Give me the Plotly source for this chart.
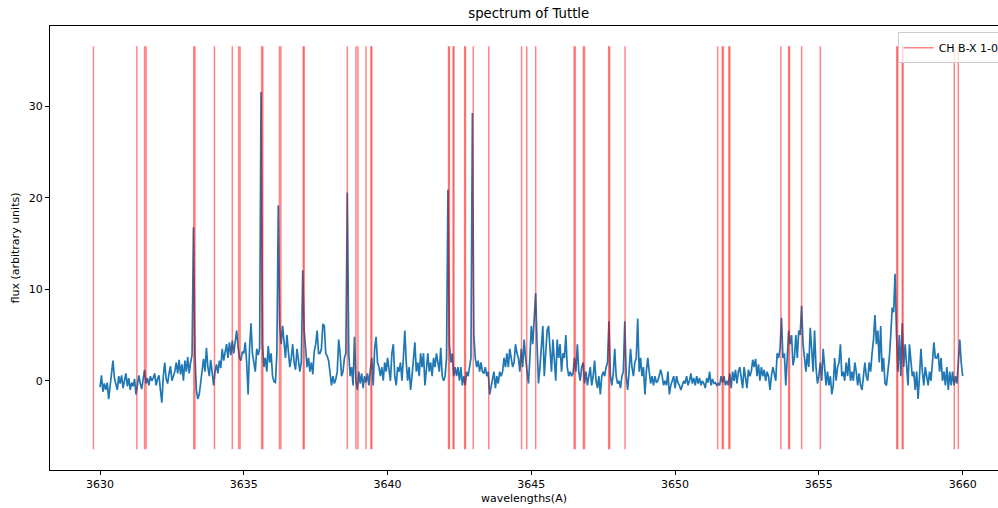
import plotly.graph_objects as go

# ---------------- data ----------------
wavelengths = [round(3630 + 0.05 * i, 2) for i in range(601)]

flux = [
    # 3630.00 - 3630.95
    -0.7, 0.6, -1.2, -0.3, -1.0, -0.2, -2.0, -0.5, 0.5, 2.2, 0.3, -0.5, -1.0, 0.5, -0.3, 0.6, -0.8, 0.0, 0.8, -0.6,
    # 3631
    0.3, -1.0, -0.2, -0.6, 0.2, -1.5, -0.5, 0.6, -0.3, -0.9, 0.2, 1.2, -0.3, 0.3, -0.5, 0.5, 0.0, 0.3, 0.8, -0.5,
    # 3632
    0.2, 0.6, -1.0, -2.4, 0.5, 2.0, 0.2, -0.3, 0.8, 1.6, 0.0, 0.5, 1.0, 2.0, 0.8, 2.3, 0.7, 1.8, 0.0, 2.2,
    # 3633
    1.0, 2.6, 0.8, 2.0, 2.8, 16.8, 3.0, -1.0, -2.0, -1.5, 0.0, 1.5, 2.4, 1.0, 3.6, 1.5, 0.5, 2.3, 1.0, -0.5,
    # 3634
    1.0, 1.8, 0.8, 2.2, 1.4, 3.5, 2.2, 3.0, 4.0, 2.5, 4.2, 2.8, 4.4, 3.0, 4.5, 5.5, 3.8, 2.5, 2.2, 3.2,
    # 3635
    3.0, 4.2, 2.0, -1.5, 3.5, 6.3, 3.0, 2.0, 1.0, 3.5, 2.8, 3.5, 31.6, 4.0, 1.5, 2.5, 1.0, 3.8, 2.0, 3.0,
    # 3636
    0.5, -0.1, -0.2, 3.0, 19.2, 6.0, 4.0, 6.0, 4.5, 2.5, 5.0, 3.0, 1.5, 2.5, 4.0, 2.0, 1.2, 3.5, 2.5, 1.0,
    # 3637
    2.0, 12.1, 5.5, 3.5, 1.5, 2.5, 1.0, 2.0, 0.7, 3.2, 4.0, 5.5, 3.0, 3.0, 3.5, 6.2, 6.0, 3.0, 2.7, 2.2,
    # 3638
    1.0, -0.5, 0.5, -0.3, 0.2, 1.0, 4.5, 3.0, 0.5, 1.0, 2.5, 3.0, 20.6, 3.0, 0.5, 1.5, -0.5, 4.8, 0.0, -1.0,
    # 3639
    1.0, -0.3, 0.8, -0.8, 0.5, -0.2, 0.8, -0.5, 1.2, 2.5, -0.5, 3.5, 4.8, 2.0, 1.5, 0.5, 1.5, 0.0, 2.0, 1.0,
    # 3640
    2.5, 1.0, 0.0, 3.0, 4.0, 0.5, -0.5, 1.5, 1.0, 2.0, 0.0, 2.5, 5.5, 2.0, 0.0, 1.5, -1.0, 0.5, 2.5, 4.2,
    # 3641
    1.0, 2.0, 0.5, 3.0, 1.5, 3.0, -0.5, 1.5, 3.0, 1.0, 2.0, 0.5, 2.5, 1.5, 3.0, 2.0, 1.0, 3.6, 0.5, 0.0,
    # 3642
    0.5, 2.5, 20.9, 4.0, 2.0, 3.0, 0.5, 1.5, 0.5, 1.5, 0.0, 1.5, -0.5, 0.5, -0.5, 1.0, 0.5, 1.5, 2.5, 29.3,
    # 3643
    5.0, 2.5, 1.5, 2.2, 1.0, 2.0, 1.0, 0.8, 1.5, 0.5, 1.0, -1.5, -0.5, 0.5, 1.0, -0.8, 0.5, -0.3, 1.0, 0.5,
    # 3644
    1.0, 2.5, 1.5, 3.0, 1.5, 3.5, 2.5, 1.5, 2.0, 4.0, 3.0, 2.5, 1.0, 3.5, 1.5, 4.5, 2.5, 1.0, -0.3, 2.5,
    # 3645
    6.0, 4.0, 6.5, 9.6, 4.0, -0.3, 1.5, 4.5, 6.0, 0.5, 3.5, 5.5, 6.0, 4.0, 1.0, 4.5, 1.5, 0.0, 4.5, 2.5,
    # 3646
    4.0, 1.0, 3.0, 2.5, 5.0, 1.5, 0.5, 1.0, 0.5, 0.8, 2.5, 1.0, 4.0, 1.0, 0.0, 1.5, 2.0, -0.3, 1.0, -0.5,
    # 3647
    0.5, 1.5, -0.5, 0.5, 2.2, 0.0, -0.8, 0.5, -1.5, 0.5, 1.0, 0.5, 1.5, 2.0, 6.5, 0.5, -0.5, 0.8, 3.5, 0.5,
    # 3648
    -0.3, 0.0, -0.8, 0.5, 1.0, 6.5, 0.5, -1.0, 1.0, 3.5, 1.5, 0.5, 2.0, 2.5, 6.8, 1.0, 2.5, 0.5, 1.5, -1.5,
    # 3649
    1.0, 2.5, 1.0, -0.3, 0.5, -0.5, 0.5, -0.2, 0.0, 0.5, 1.2, 0.5, -0.5, 0.0, -0.5, 1.0, -1.5, -0.5, 0.0, 0.5,
    # 3650
    -0.8, 0.5, -0.2, -0.5, -1.0, -0.5, 0.0, -0.3, 0.5, -0.5, 0.0, 0.8, -0.3, 0.3, -0.5, 0.5, -0.3, 0.3, -0.5, 0.0,
    # 3651
    -0.3, -0.8, 0.3, -0.2, 1.0, -0.5, 0.2, -0.3, -0.2, -0.5, -0.3, -0.5, 0.5, -0.2, 0.5, -0.5, 0.0, -0.5, 0.8, -0.8,
    # 3652
    1.0, 0.0, 1.2, -0.3, 1.0, 1.5, 0.5, -0.8, 1.5, 0.0, -0.8, 1.2, 0.5, 1.0, 2.3, 1.5, 2.4, 0.5, 1.8, 0.0,
    # 3653
    1.5, 0.5, 1.2, 0.0, 1.0, 0.5, -1.0, 0.5, 1.5, 0.8, 0.0, 3.0, 2.5, 3.5, 6.9, 2.5, 3.0, -0.5, 2.0, 5.5,
    # 3654
    4.0, 5.0, 1.7, 2.5, 5.0, 2.5, 5.5, 5.0, 8.2, 4.0, 2.5, 1.0, 3.0, 1.5, 5.8, 3.0, 1.0, 5.5, 1.5, -0.3,
    # 3655
    0.5, 2.0, 0.0, 3.5, 1.0, -0.5, 1.0, -0.5, 0.5, -1.5, -0.5, 2.5, 0.0, 1.5, 2.0, 4.0, 0.5, 1.0, 0.0, 2.0,
    # 3656
    0.5, 2.5, 0.0, 1.0, 0.0, 2.0, 1.0, -0.5, 0.8, -0.5, -1.0, 0.5, 2.0, 0.5, 0.0, 2.0, 1.0, 3.0, 4.5, 7.2,
    # 3657
    4.0, 5.5, 2.0, 6.0, 1.0, 2.5, -0.3, -0.5, 1.0, 2.5, 5.0, 8.0, 7.5, 11.7, 5.0, 1.0, 5.0, 0.5, 6.3, 1.5,
    # 3658
    4.0, 1.5, -0.5, 4.0, 2.5, 0.5, 1.0, -1.0, 1.0, -2.0, 0.5, 3.5, 1.0, -0.5, 1.5, 0.5, -0.5, 1.0, 0.0, 2.0,
    # 3659
    4.2, 2.5, 2.5, 3.0, 1.0, 2.5, 0.0, 1.0, -0.5, 1.5, -1.0, 1.0, -0.5, 1.0, -0.5, 0.5, -0.3, 2.0, 4.5, 2.0,
    # 3660
    0.5,
]

ch_bx_lines = [
    3629.77, 3631.28, 3631.55, 3631.60, 3633.26, 3633.30, 3633.98, 3634.60,
    3634.82, 3634.87, 3635.62, 3635.66, 3636.24, 3636.29, 3637.07, 3637.10,
    3638.60, 3638.90, 3638.97, 3639.25, 3639.42, 3639.45, 3642.12, 3642.15,
    3642.28, 3642.31, 3642.68, 3642.71, 3642.98, 3643.52, 3644.66, 3644.84,
    3645.15, 3646.49, 3646.53, 3646.81, 3646.85, 3647.69, 3647.72, 3648.26,
    3651.48, 3651.64, 3651.68, 3651.87, 3651.90, 3653.68, 3653.95, 3653.98,
    3654.40, 3655.05, 3657.71, 3657.74, 3657.90, 3657.93, 3659.71, 3659.85,
]
line_ymin = -7.5
line_ymax = 36.6

x_ticks = [3630, 3635, 3640, 3645, 3650, 3655, 3660]
y_ticks = [0, 10, 20, 30]

# ---------------- figure ----------------
FONT = "DejaVu Sans"
fig = go.Figure()

fig.add_trace(go.Scatter(
    x=wavelengths, y=flux, mode="lines",
    line=dict(color="#1f77b4", width=1.7),
    showlegend=False, hoverinfo="skip",
))

for i, w in enumerate(ch_bx_lines):
    fig.add_trace(go.Scatter(
        x=[w, w], y=[line_ymin, line_ymax], mode="lines",
        line=dict(color="rgba(255,0,0,0.48)", width=1.5),
        name="CH B-X 1-0", legendgroup="ch", showlegend=(i == 0),
        hoverinfo="skip",
    ))

fig.update_layout(
    width=998, height=508,
    margin=dict(l=50, r=0, t=26, b=38, pad=0, autoexpand=False),
    paper_bgcolor="white", plot_bgcolor="white",
    font=dict(family=FONT, size=11, color="black"),
    title=dict(
        text="spectrum of Tuttle", x=0.505, xref="paper", xanchor="center",
        y=1 - 13 / 508, yref="container", yanchor="middle",
        font=dict(family=FONT, size=13.3, color="black"),
    ),
    legend=dict(
        x=1.007, xanchor="right", y=0.986, yanchor="top",
        bgcolor="rgba(255,255,255,0.8)", bordercolor="#cccccc", borderwidth=1,
        font=dict(family=FONT, size=11, color="black"),
        tracegroupgap=0,
    ),
    xaxis=dict(
        range=[3628.26, 3661.23], tickvals=x_ticks, ticktext=[str(v) for v in x_ticks],
        ticks="outside", ticklen=4, tickwidth=0.9, tickcolor="black",
        showline=True, linecolor="black", linewidth=0.9, mirror=True,
        showgrid=False, zeroline=False, automargin=False,
        tickfont=dict(family=FONT, size=11, color="black"),
        title=dict(text="wavelengths(A)", standoff=4, font=dict(family=FONT, size=11, color="black")),
    ),
    yaxis=dict(
        range=[-9.76, 38.81], tickvals=y_ticks, ticktext=[str(v) for v in y_ticks],
        ticks="outside", ticklen=4, tickwidth=0.9, tickcolor="black",
        showline=True, linecolor="black", linewidth=0.9, mirror=False,
        showgrid=False, zeroline=False, automargin=False,
        tickfont=dict(family=FONT, size=11, color="black"),
        title=dict(text="flux (arbitrary units)", standoff=6, font=dict(family=FONT, size=11, color="black")),
    ),
)

fig.write_html(
    "out.html",
    config={"displayModeBar": False},
    post_script="document.body.style.margin='0';document.body.style.overflow='hidden';",
)
